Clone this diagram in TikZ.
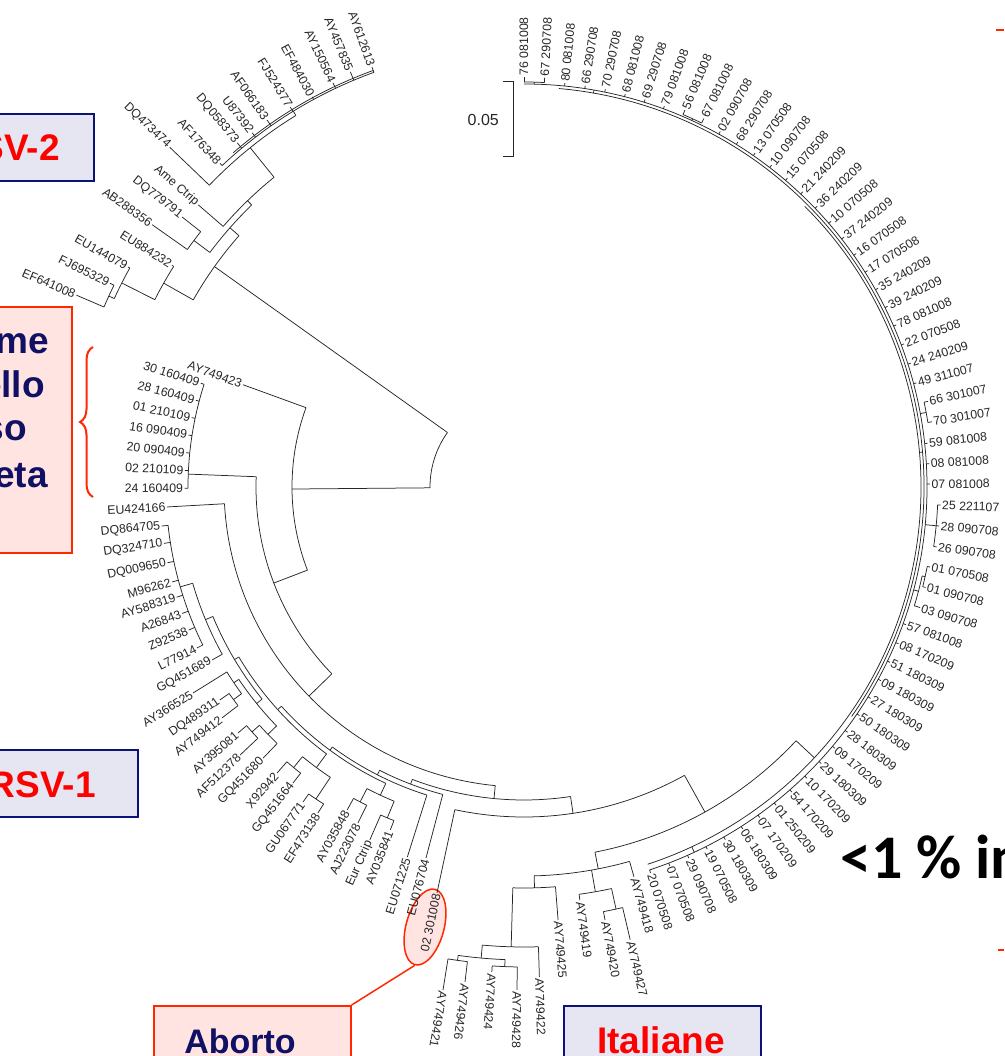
\documentclass[tikz,border=0pt]{standalone}
\usepackage{fontspec}
\setmainfont{Liberation Sans}
\newfontfamily\calib{Carlito}
\usetikzlibrary{shapes.geometric,decorations.pathreplacing}
\definecolor{navy}{RGB}{10,20,120}
\definecolor{navytxt}{RGB}{16,16,100}
\definecolor{lav}{RGB}{230,230,242}
\definecolor{rosa}{RGB}{255,228,226}
\definecolor{redline}{RGB}{255,40,0}
\definecolor{boxred}{RGB}{255,0,0}

% tree pieces: angles clockwise from east, radii in px from the centre
\newcommand\tarc[3]{\draw[br] (#1:#3) arc[start angle=#1,end angle=#2,radius=#3];}
\newcommand\tstem[3]{\draw[br] (#1:#2) -- (#1:#3);}
\newcommand\clade[5]{\tstem{#4}{#5}{#3}\tarc{#1}{#2}{#3}}
\newcommand\leafR[5]{\draw[br] (#2:#3) -- (#2:#4) node[lab,anchor=west,rotate=-#2] (#1) {#5};}
\newcommand\leafL[5]{\draw[br] (#2:#3) -- (#2:#4) node[lab,anchor=east,rotate=180-#2] (#1) {#5};}

\begin{document}
\begin{tikzpicture}[x=1pt,y=-1pt,
  br/.style={line width=0.75pt,black!85},
  lab/.style={font=\fontsize{12.3}{12.3}\selectfont,text=black!85,inner sep=1.2pt},
  lavbox/.style={draw=navy,fill=lav,line width=1.6pt},
  rosebox/.style={draw=redline,fill=rosa,line width=1.6pt},
  bigred/.style={font=\bfseries\fontsize{37}{37}\selectfont,text=boxred,inner sep=0pt},
  bignavy/.style={font=\bfseries\fontsize{37}{37}\selectfont,text=navytxt,inner sep=0pt}]
\useasboundingbox (0,0) rectangle (1004,1056);

% annotation under the tree
\node[ellipse,draw=redline,fill=rosa,line width=1.5pt,minimum width=78,minimum height=38,
  rotate=75,inner sep=0pt] (abring) at (425,927) {};

\begin{scope}[shift={(524,487)}]
  % root
  \tarc{179.5}{215.45}{94}
  % RSV-2
  \clade{209.5}{221.4}{380}{215.45}{94}
  \clade{206.9}{212.2}{414}{209.5}{380}
  \leafL{EU884232}{212.2}{414}{416}{EU884232}
  \clade{204.7}{209.05}{451}{206.9}{414}
  \leafL{EU144079}{209.05}{451}{453}{EU144079}
  \clade{203.2}{206.2}{457}{204.7}{451}
  \leafL{EF641008}{203.2}{457}{487}{EF641008}
  \leafL{FJ695329}{206.2}{457}{461.5}{FJ695329}
  \clade{216.75}{226}{392}{221.4}{380}
  \clade{215.2}{218.3}{412}{216.75}{392}
  \leafL{AB288356}{215.2}{412}{455}{AB288356}
  \leafL{DQ779791}{218.3}{412}{435.7}{DQ779791}
  \clade{220.9}{231.1}{398}{226}{392}
  \leafL{AmeCtrip}{220.9}{398}{431}{Ame Ctrip}
  \clade{223.8}{238.45}{436}{231.1}{398}
  \leafL{DQ473474}{223.8}{436}{490.8}{DQ473474}
  \clade{226.8}{250.1}{441}{238.45}{436}
  \tarc{229}{250.1}{443}
  \foreach \a/\r/\t in {226.8/444/AF176348,230.2/448/DQ058373,232.5/446.4/U87392,
      235/448/AF066183,238.4/446/FJ524377,241.5/444/EF484030,244.7/447/AY150564,
      247.3/450/AY457835,250.1/446.7/AY612613}
    {\leafL{\t}{\a}{441}{\r}{\t}}

  % RSV-1
  \clade{159}{200}{232}{179.5}{94}
  \leafL{AY749423}{200}{232}{299}{AY749423}
  \clade{135.8}{182.2}{268}{159}{232}
  \clade{179.8}{197.8}{336}{182.2}{268}
  \foreach \t [count=\i] in {24 160409,02 210109,20 090409,16 090409,01 210109,28 160409,30 160409}
    {\pgfmathsetmacro\a{176.8+3*\i}\leafL{dd\i}{\a}{336}{339.5}{\t}}
  \clade{95.5}{176.8}{300}{135.8}{268}
  \leafL{EU424166}{176.8}{300}{357.6}{EU424166}
  \clade{81.45}{110.9}{313}{95.5}{300}
  \clade{60.9}{102.1}{330}{81.45}{313}
  \leafL{ab301008}{102.1}{330}{415}{02 301008}
  \clade{43}{79}{372}{60.9}{330}

  % Italiane
  \clade{74.25}{88.5}{389}{79}{372}
  \leafR{AY749418}{74.25}{389}{405}{AY749418}
  \clade{77.7}{82.3}{411}{80}{389}
  \leafR{AY749419}{82.3}{411}{416.8}{AY749419}
  \clade{76.8}{79.4}{432}{77.7}{411}
  \leafR{AY749427}{76.8}{432}{465}{AY749427}
  \leafR{AY749420}{79.4}{432}{440.5}{AY749420}
  \clade{85.5}{91.6}{401}{88.5}{389}
  \leafR{AY749425}{85.5}{401}{434.3}{AY749425}
  \clade{88.2}{95.2}{460}{91.6}{401}
  \leafR{AY749422}{88.2}{460}{490.2}{AY749422}
  \clade{92.3}{98}{473}{95.2}{460}
  \clade{90.8}{93.8}{480}{92.3}{473}
  \leafR{AY749428}{90.8}{480}{503}{AY749428}
  \leafR{AY749424}{93.8}{480}{486}{AY749424}
  \clade{96.8}{99.15}{478}{98}{473}
  \leafR{AY749426}{96.8}{478}{498.5}{AY749426}
  \leafR{AY749421}{99.15}{478}{509.5}{AY749421}

  % RSV-1 ladder
  \clade{104.8}{117}{318}{110.9}{313}
  \leafL{EU076704}{104.8}{318}{383.7}{EU076704}
  \clade{107.5}{126.4}{323}{117}{318}
  \leafL{EU071225}{107.5}{323}{388}{EU071225}
  \clade{115}{137.9}{327}{126.4}{323}
  \clade{112.45}{117.5}{340}{115}{327}
  \clade{111.3}{113.6}{358}{112.45}{340}
  \leafL{AY035841}{111.3}{358}{368}{AY035841}
  \leafL{EurCtrip}{113.6}{358}{385}{Eur Ctrip}
  \clade{116.3}{118.7}{355}{117.5}{340}
  \leafL{AJ223078}{116.3}{355}{374.8}{AJ223078}
  \leafL{AY035848}{118.7}{355}{368.3}{AY035848}
  \clade{126.5}{149.2}{332}{137.9}{327}
  \clade{123.7}{129.4}{349}{126.5}{332}
  \clade{122.3}{125.05}{375}{123.7}{349}
  \leafL{EF473138}{122.3}{375}{385.6}{EF473138}
  \leafL{GU067771}{125.05}{375}{384.8}{GU067771}
  \clade{127.97}{130.8}{363}{129.4}{349}
  \leafL{GQ451664}{127.97}{363}{375.5}{GQ451664}
  \leafL{X92942}{130.8}{363}{377.9}{X92942}
  \clade{141}{157.4}{337}{149.2}{332}
  \clade{136}{146}{344}{141}{337}
  \clade{133.9}{138}{356}{136}{344}
  \leafL{GQ451680}{133.9}{356}{376.3}{GQ451680}
  \clade{136.65}{139.3}{366}{138}{356}
  \leafL{AF512378}{136.65}{366}{390.5}{AF512378}
  \leafL{AY395081}{139.3}{366}{377.2}{AY395081}
  \clade{143.8}{148.1}{350}{146}{344}
  \clade{142.6}{145}{360}{143.8}{350}
  \leafL{AY749412}{142.6}{360}{380.2}{AY749412}
  \leafL{DQ489311}{145}{360}{371.2}{DQ489311}
  \leafL{AY366525}{148.1}{350}{389.9}{AY366525}
  \clade{151}{163.8}{345}{157.4}{337}
  \leafL{GQ451689}{151}{345}{356.8}{GQ451689}
  \clade{153.8}{173.85}{358}{163.8}{345}
  \foreach \a/\t in {153.8/L77914,156.9/Z92538,159.7/A26843,162.4/AY588319,
      164.9/M96262,168/DQ009650,171.1/DQ324710,173.85/DQ864705}
    {\leafL{\t}{\a}{358}{364.5}{\t}}

  % local clade, the ring
  \tstem{43}{372}{397}
  \tarc{315}{431.84}{397}
  \tarc{275}{395}{400}
  \tarc{270}{431.84}{403}
  \tstem{355}{397}{400}
  \tstem{280}{400}{403}
  \tstem{425}{397}{403}
  \tarc{270}{272.89}{405}\tstem{271.45}{403}{405}
  \tarc{293.12}{296.01}{405}\tstem{294.6}{403}{405}
  \tarc{348.03}{350.92}{409}\tstem{349.5}{403}{409}
  \tarc{362.48}{368.26}{414}\tstem{365.37}{403}{414}
  \tarc{372.6}{376.93}{408}\tstem{374.8}{403}{408}
  \tarc{371.15}{374.04}{411}\tstem{372.6}{408}{411}
  \foreach \t/\b/\r [count=\i from 0] in {76 081008/405/410,67 290708/405/410,
      80 081008/403/406,66 290708/403/406,70 290708/403/406,68 081008/403/406,
      69 290708/403/406,79 081008/403/406,56 081008/405/410,67 081008/405/410,
      02 090708/403/406,68 290708/403/406,13 070508/403/406,10 090708/403/406,
      15 070508/403/406,21 240209/403/406,36 240209/403/406,10 070508/403/406,
      37 240209/403/406,16 070508/403/406,17 070508/403/406,35 240209/403/406,
      39 240209/403/406,78 081008/403/406,22 070508/403/406,24 240209/403/406,
      49 311007/403/406,66 301007/409/413,70 301007/409/413,59 081008/403/406,
      08 081008/403/406,07 081008/403/406,25 221107/414/417,28 090708/414/417,
      26 090708/414/417,01 070508/411/414,01 090708/411/414,03 090708/408/414,
      57 081008/403/406,08 170209/403/406,51 180309/403/406,09 180309/403/406,
      27 180309/403/406,50 180309/403/406,28 180309/403/406,09 170209/403/406,
      29 180309/403/406,10 170209/403/406,54 170209/403/406,01 250209/403/406,
      07 170209/403/406,06 180309/403/406,30 180309/403/406,19 070508/403/406,
      29 090708/403/406,07 070508/403/406,20 070508/403/406}
    {\pgfmathsetmacro\a{270+2.89*\i}
     \draw[br] (\a:\b) -- (\a:\r) node[lab,anchor=west,rotate=-\a] (rc\i) {\t};}
\end{scope}

% scale bar
\draw[br,line width=1pt] (503,82) -- (513,82) -- (513,157) -- (503,157);
\node[font=\fontsize{16}{16}\selectfont,text=black!85,anchor=east,inner sep=0pt] (scale) at (499,120) {0.05};

% boxes
\node[lavbox,minimum width=197,minimum height=67,anchor=north east] (rsvtwo) at (95,113) {};
\node[bigred,anchor=base east] (rsvtwotxt) at (60,161) {RSV-2};
\node[lavbox,minimum width=197,minimum height=67,anchor=north east] (rsvone) at (139,749) {};
\node[bigred,anchor=base east] (rsvonetxt) at (96,797) {RSV-1};
\node[rosebox,minimum width=200,minimum height=246,anchor=north east] (pinkbox) at (73,306) {};
\node[bignavy,anchor=base east] (wa) at (49,353) {me};
\node[bignavy,anchor=base east] (wb) at (45,397) {ello};
\node[bignavy,anchor=base east] (wc) at (27,440) {so};
\node[bignavy,anchor=base east] (wd) at (48,487) {eta};
\draw[redline,line width=2pt,decorate,decoration={brace,amplitude=13pt}] (93,497) -- (93,347);

\node[rosebox,minimum width=197,minimum height=80,anchor=north west] (aborto) at (153,1005) {};
\node[bignavy,anchor=base,font=\bfseries\fontsize{34}{34}\selectfont] (abortotxt) at (240,1053) {Aborto};
\draw[redline,line width=1.5pt] (aborto.north east) -- (abring.west);
\node[lavbox,minimum width=197,minimum height=80,anchor=north west] (italiane) at (563,1005) {};
\node[bigred,anchor=base] (italianetxt) at (661,1053) {Italiane};

\node[font=\calib\bfseries\fontsize{62}{62}\selectfont,anchor=base west,inner sep=0pt] (pct) at (840,878) {<1 \% in};
\draw[redline,line width=1.5pt] (996,30) -- (1004,30);
\draw[redline,line width=1.5pt] (998,950) -- (1004,950);
\end{tikzpicture}
\end{document}
